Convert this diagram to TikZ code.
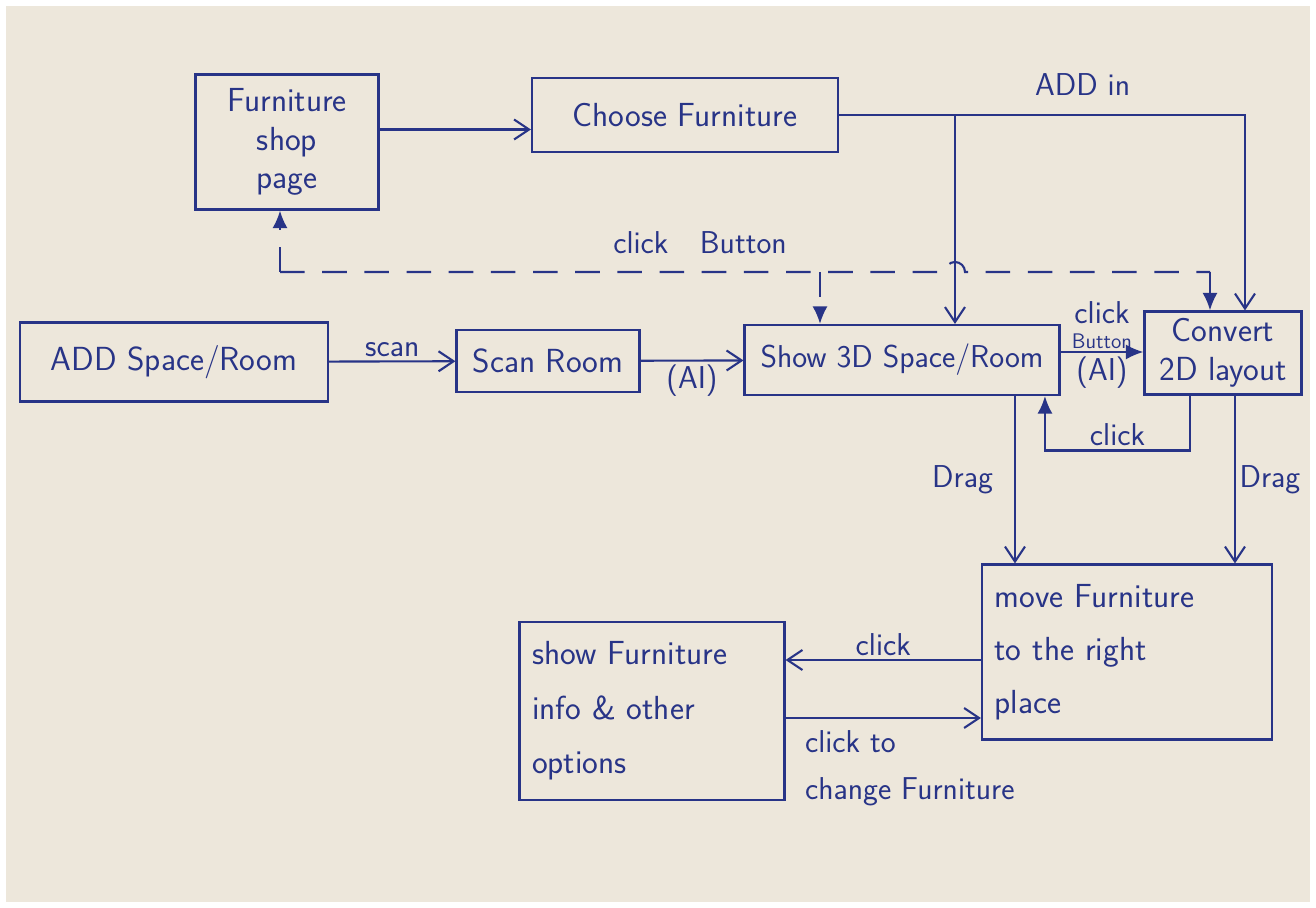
\documentclass[tikz,border=0pt]{standalone}
\usetikzlibrary{arrows.meta,positioning}
\definecolor{ink}{RGB}{40,52,135}
\definecolor{paper}{RGB}{237,231,219}
\begin{document}
\begin{tikzpicture}[x=0.02cm,y=-0.02cm,
  box/.style={draw=ink,line width=1.2pt,text=ink,align=center,inner sep=0pt,
    font=\sffamily\fontsize{19}{22}\selectfont},
  lbl/.style={text=ink,inner sep=2pt,font=\sffamily\fontsize{18}{27}\selectfont},
  line/.style={draw=ink,line width=1.2pt},
  link/.style={line,-{Straight Barb[length=3mm,width=4mm]}},
  flink/.style={line,-{Latex[length=3.5mm,width=3mm]}},
  dlink/.style={line,dashed,dash pattern=on 14pt off 10pt,-{Latex[length=3.5mm,width=3mm]}}]
\fill[white] (0,0) rectangle (1316,908);
\fill[paper] (6,6) rectangle (1310,902);
% boxes
\node[box,minimum width=3.66cm,minimum height=2.7cm] (shop) at (287,142) {Furniture\\shop\\page};
\node[box,minimum width=6.12cm,minimum height=1.48cm] (choose) at (685,115) {Choose Furniture};
\node[box,minimum width=6.16cm,minimum height=1.58cm] (add) at (174,362) {ADD Space/Room};
\node[box,minimum width=3.66cm,minimum height=1.24cm] (scan) at (548,361) {Scan Room};
\node[box,minimum width=6.3cm,minimum height=1.4cm,font=\sffamily\fontsize{18}{22}\selectfont] (show) at (902,360) {Show 3D Space/Room};
\node[box,minimum width=3.14cm,minimum height=1.66cm] (convert) at (1223,353) {Convert\\2D layout};
\node[box,minimum width=5.8cm,minimum height=3.5cm,text width=5.3cm,align=left,
  font=\sffamily\fontsize{19}{30}\selectfont] (move) at (1127,652) {move Furniture\\to the right\\place};
\node[box,minimum width=5.3cm,minimum height=3.56cm,text width=4.8cm,align=left,
  font=\sffamily\fontsize{19}{31}\selectfont] (info) at (652,711) {show Furniture\\info \& other\\options};
% top flow
\draw[link] ([yshift=0.25cm]shop.east) -- ([yshift=0.25cm]shop.east -| choose.west);
\coordinate (split) at (955,115);
\draw[line] (choose.east) -- (split);
\draw[link] (split) -- (split |- show.north);
\draw[link] (split) -| ([xshift=0.44cm]convert.north) node[lbl,pos=0.22,above=0.3cm]{ADD in};
% click Button (dashed)
\coordinate (dleft) at (280,272);
\coordinate (dmid) at (820,272);
\coordinate (dright) at (1210,272);
\draw[dlink] (dleft) -- (shop.south -| dleft);
\draw[line,dashed,dash pattern=on 14pt off 10pt] (dleft) -- (945,272) arc (180:360:10) -- (dright);
\draw[dlink] (dmid) -- (dmid |- show.north);
\draw[dlink] (dright) -- (dright |- convert.north);
\node[lbl] (btnlbl) at (700,243) {click\quad Button};
% main row
\draw[link] (add) -- (scan) node[lbl,midway,above]{scan};
\draw[link] (scan) -- (show) node[lbl,midway,below]{(AI)};
\draw[flink] ([yshift=0.16cm]show.east) -- ([yshift=0.16cm]show.east -| convert.west)
  node[lbl,midway,above,inner sep=1pt,font=\sffamily\fontsize{12}{14}\selectfont] (btn){Button}
  node[lbl,midway,below]{(AI)};
\node[lbl,above=2pt of btn] {click};
\draw[flink] ([xshift=-0.66cm]convert.south) -- ++(0,55) -| ([xshift=2.86cm]show.south)
  node[lbl,pos=0.25,above]{click};
% drag to move
\draw[link] ([xshift=2.26cm]show.south) -- ([xshift=2.26cm]show.south |- move.north)
  node[lbl,midway,left=0.35cm]{Drag};
\draw[link] ([xshift=0.24cm]convert.south) -- ([xshift=0.24cm]convert.south |- move.north)
  node[lbl,midway,right]{Drag};
% bottom pair
\draw[link] ([yshift=-0.16cm]move.west) -- ([yshift=-0.16cm]move.west -| info.east)
  node[lbl,midway,above]{click};
\draw[link] ([yshift=-0.14cm]info.east) -- ([yshift=-0.14cm]info.east -| move.west)
  node[lbl,at start,below right,xshift=0.3cm,yshift=-0.15cm,align=left]{click to\\change Furniture};
\end{tikzpicture}
\end{document}
